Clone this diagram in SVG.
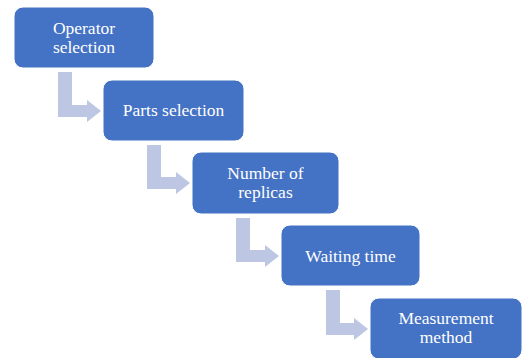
<svg xmlns="http://www.w3.org/2000/svg" width="524" height="358" viewBox="0 0 524 358">
<style>
.box{fill:#4472C4;stroke:#FFFFFF;stroke-width:1}
.conn{fill:#BDC7E3;stroke:none}
text{font-family:"Liberation Serif","Times New Roman",serif;font-size:17.5px;fill:#FFFFFF;text-anchor:middle}
</style>
<rect width="524" height="358" fill="#FFFFFF"/>
<g id="connectors">
<path class="conn" d="M58,72 H72 V105 H87 V100 L101,111 L87,122 V117 H58 Z"/>
<path class="conn" d="M147,145 H161 V177 H176 V172 L190,183 L176,194 V189 H147 Z"/>
<path class="conn" d="M236,218 H250 V250 H265 V245 L279,256 L265,267 V262 H236 Z"/>
<path class="conn" d="M326,290 H340 V323 H354 V318 L368,329 L354,340 V335 H326 Z"/>
</g>
<g id="node1">
<rect class="box" x="14" y="7" width="140" height="61" rx="9"/>
<text x="84" y="33.5">Operator</text>
<text x="84" y="52.5">selection</text>
</g>
<g id="node2">
<rect class="box" x="103" y="80" width="141" height="61" rx="9"/>
<text x="173.5" y="116">Parts selection</text>
</g>
<g id="node3">
<rect class="box" x="192" y="152" width="147" height="62" rx="9"/>
<text x="265.5" y="178.5">Number of</text>
<text x="265.5" y="197.5">replicas</text>
</g>
<g id="node4">
<rect class="box" x="281" y="225" width="139" height="61" rx="9"/>
<text x="350.5" y="261.5">Waiting time</text>
</g>
<g id="node5">
<rect class="box" x="370" y="298" width="152" height="61" rx="9"/>
<text x="446" y="324">Measurement</text>
<text x="446" y="343">method</text>
</g>
</svg>
